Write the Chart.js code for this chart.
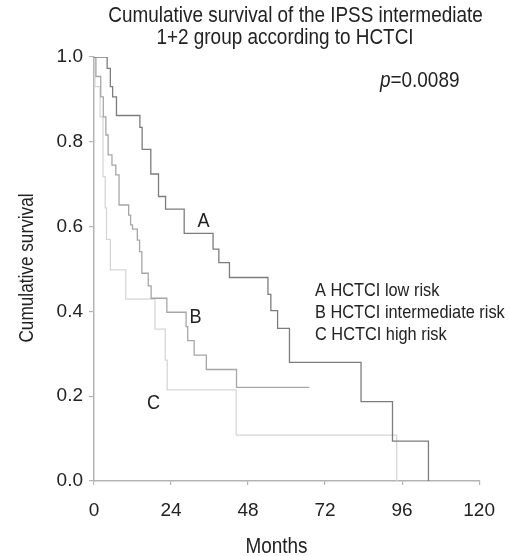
<!DOCTYPE html>
<html>
<head>
<meta charset="utf-8">
<script src="https://cdn.jsdelivr.net/npm/chart.js@4"></script>
<style>
  html, body { margin: 0; padding: 0; background: #fff; }
  #wrap { width: 509px; height: 556px; position: relative; }
</style>
</head>
<body>
<div id="wrap"><canvas id="c" width="509" height="556"></canvas></div>
<script>
// ---- data ----
const monthsA = [0, 4.1, 5.1, 5.8, 7.0, 14.3, 15.0, 17.7, 20.1, 22.3, 28.1, 37.1, 38.9, 42.2, 54.2, 55.1, 57.2, 60.9, 83.2, 93.0, 104.2];
const survA   = [1.0, 0.973, 0.930, 0.906, 0.862, 0.834, 0.782, 0.724, 0.671, 0.641, 0.584, 0.547, 0.515, 0.480, 0.440, 0.402, 0.360, 0.280, 0.187, 0.094, 0.0];

const monthsB = [0, 0.6, 2.1, 2.9, 3.7, 4.4, 5.6, 6.8, 7.8, 10.8, 11.4, 12.0, 13.5, 14.2, 14.9, 16.9, 17.8, 22.7, 28.7, 29.2, 31.2, 35.0, 44.4, 67.1];
const survB   = [1.0, 0.954, 0.906, 0.859, 0.816, 0.769, 0.745, 0.722, 0.651, 0.627, 0.604, 0.594, 0.568, 0.541, 0.490, 0.460, 0.431, 0.398, 0.364, 0.331, 0.297, 0.263, 0.221, 0.221];

const monthsC = [0, 0.3, 1.9, 2.8, 3.5, 3.9, 5.1, 9.9, 19.0, 22.2, 22.8, 44.3, 94.3];
const survC   = [1.0, 0.930, 0.859, 0.718, 0.644, 0.570, 0.498, 0.429, 0.358, 0.285, 0.215, 0.108, 0.0];

const xTicks = [0, 24, 48, 72, 96, 120];
const yTicks = [0.0, 0.2, 0.4, 0.6, 0.8, 1.0];

const titleLines = ["Cumulative survival of the IPSS intermediate", "1+2 group according to HCTCI"];
const xTitle = "Months";
const yTitle = "Cumulative survival";
const curveLabels = ["A", "B", "C"];
const legendLines = ["A HCTCI low risk", "B HCTCI intermediate risk", "C HCTCI high risk"];
const pLabel = ["p", "=0.0089"];

// ---- styling ----
const FAM = '"Liberation Sans", Arial, sans-serif';
const TXT = '#222222';
const AXIS = '#b4b4b4';
const SQ = 0.86; // horizontal condensation of the annotation text

function toXY(xs, ys) { return xs.map((x, i) => ({ x: x, y: ys[i] })); }

function drawText(ctx, s, x, y, size, align, opts) {
  opts = opts || {};
  ctx.save();
  ctx.translate(x, y);
  if (opts.rotate) ctx.rotate(opts.rotate);
  ctx.scale(SQ, 1);
  ctx.font = (opts.italic ? 'italic ' : '') + size + 'px ' + FAM;
  ctx.textAlign = align;
  ctx.textBaseline = 'alphabetic';
  ctx.fillStyle = TXT;
  ctx.fillText(s, 0, 0);
  const w = ctx.measureText(s).width * SQ;
  ctx.restore();
  return w;
}

const textPlugin = {
  id: 'texts',
  afterDraw(chart) {
    const ctx = chart.ctx;
    // title
    drawText(ctx, titleLines[0], 295.5, 22, 22, 'center');
    drawText(ctx, titleLines[1], 285, 44, 22, 'center');
    // axis titles
    drawText(ctx, xTitle, 276.5, 553, 22, 'center');
    drawText(ctx, yTitle, 33, 268, 20, 'center', { rotate: -Math.PI / 2 });
    // curve letters
    drawText(ctx, curveLabels[0], 203.5, 227, 21, 'center');
    drawText(ctx, curveLabels[1], 195.5, 323, 21, 'center');
    drawText(ctx, curveLabels[2], 153.5, 409, 21, 'center');
    // legend
    drawText(ctx, legendLines[0], 315, 296, 19, 'left');
    drawText(ctx, legendLines[1], 315, 318, 19, 'left');
    drawText(ctx, legendLines[2], 315, 340, 19, 'left');
    // p value
    const w = drawText(ctx, pLabel[0], 380, 87, 22, 'left', { italic: true });
    drawText(ctx, pLabel[1], 380 + w, 87, 22, 'left');
  }
};

new Chart(document.getElementById('c'), {
  type: 'line',
  data: {
    datasets: [
      { label: 'A', data: toXY(monthsA, survA), borderColor: '#7c7c7c', borderWidth: 1.3, stepped: true, pointRadius: 0, fill: false },
      { label: 'B', data: toXY(monthsB, survB), borderColor: '#a6a6a6', borderWidth: 1.3, stepped: true, pointRadius: 0, fill: false },
      { label: 'C', data: toXY(monthsC, survC), borderColor: '#d6d6d6', borderWidth: 1.3, stepped: true, pointRadius: 0, fill: false }
    ]
  },
  options: {
    responsive: false,
    animation: false,
    devicePixelRatio: 1,
    layout: { padding: { left: 0, right: 29, top: 57, bottom: 0 } },
    plugins: { legend: { display: false }, tooltip: { enabled: false }, title: { display: false } },
    scales: {
      x: {
        type: 'linear', min: 0, max: 120,
        afterBuildTicks(s) { s.ticks = xTicks.map(v => ({ value: v })); },
        afterFit(s) { s.height = 75; },
        border: { display: true, color: AXIS, width: 1.5 },
        grid: { display: true, drawOnChartArea: false, drawTicks: true, tickLength: 4, color: AXIS, lineWidth: 1.2 },
        ticks: { color: TXT, font: { family: FAM, size: 19 }, padding: 14, maxRotation: 0, autoSkip: false,
                 callback: v => String(v) }
      },
      y: {
        type: 'linear', min: 0, max: 1,
        afterBuildTicks(s) { s.ticks = yTicks.map(v => ({ value: v })); },
        afterFit(s) { s.width = 94; },
        border: { display: true, color: AXIS, width: 1.5 },
        grid: { display: true, drawOnChartArea: false, drawTicks: true, tickLength: 5, color: AXIS, lineWidth: 1.2 },
        ticks: { color: TXT, font: { family: FAM, size: 19 }, padding: 6, autoSkip: false,
                 callback: v => Number(v).toFixed(1) }
      }
    }
  },
  plugins: [textPlugin]
});
</script>
</body>
</html>
